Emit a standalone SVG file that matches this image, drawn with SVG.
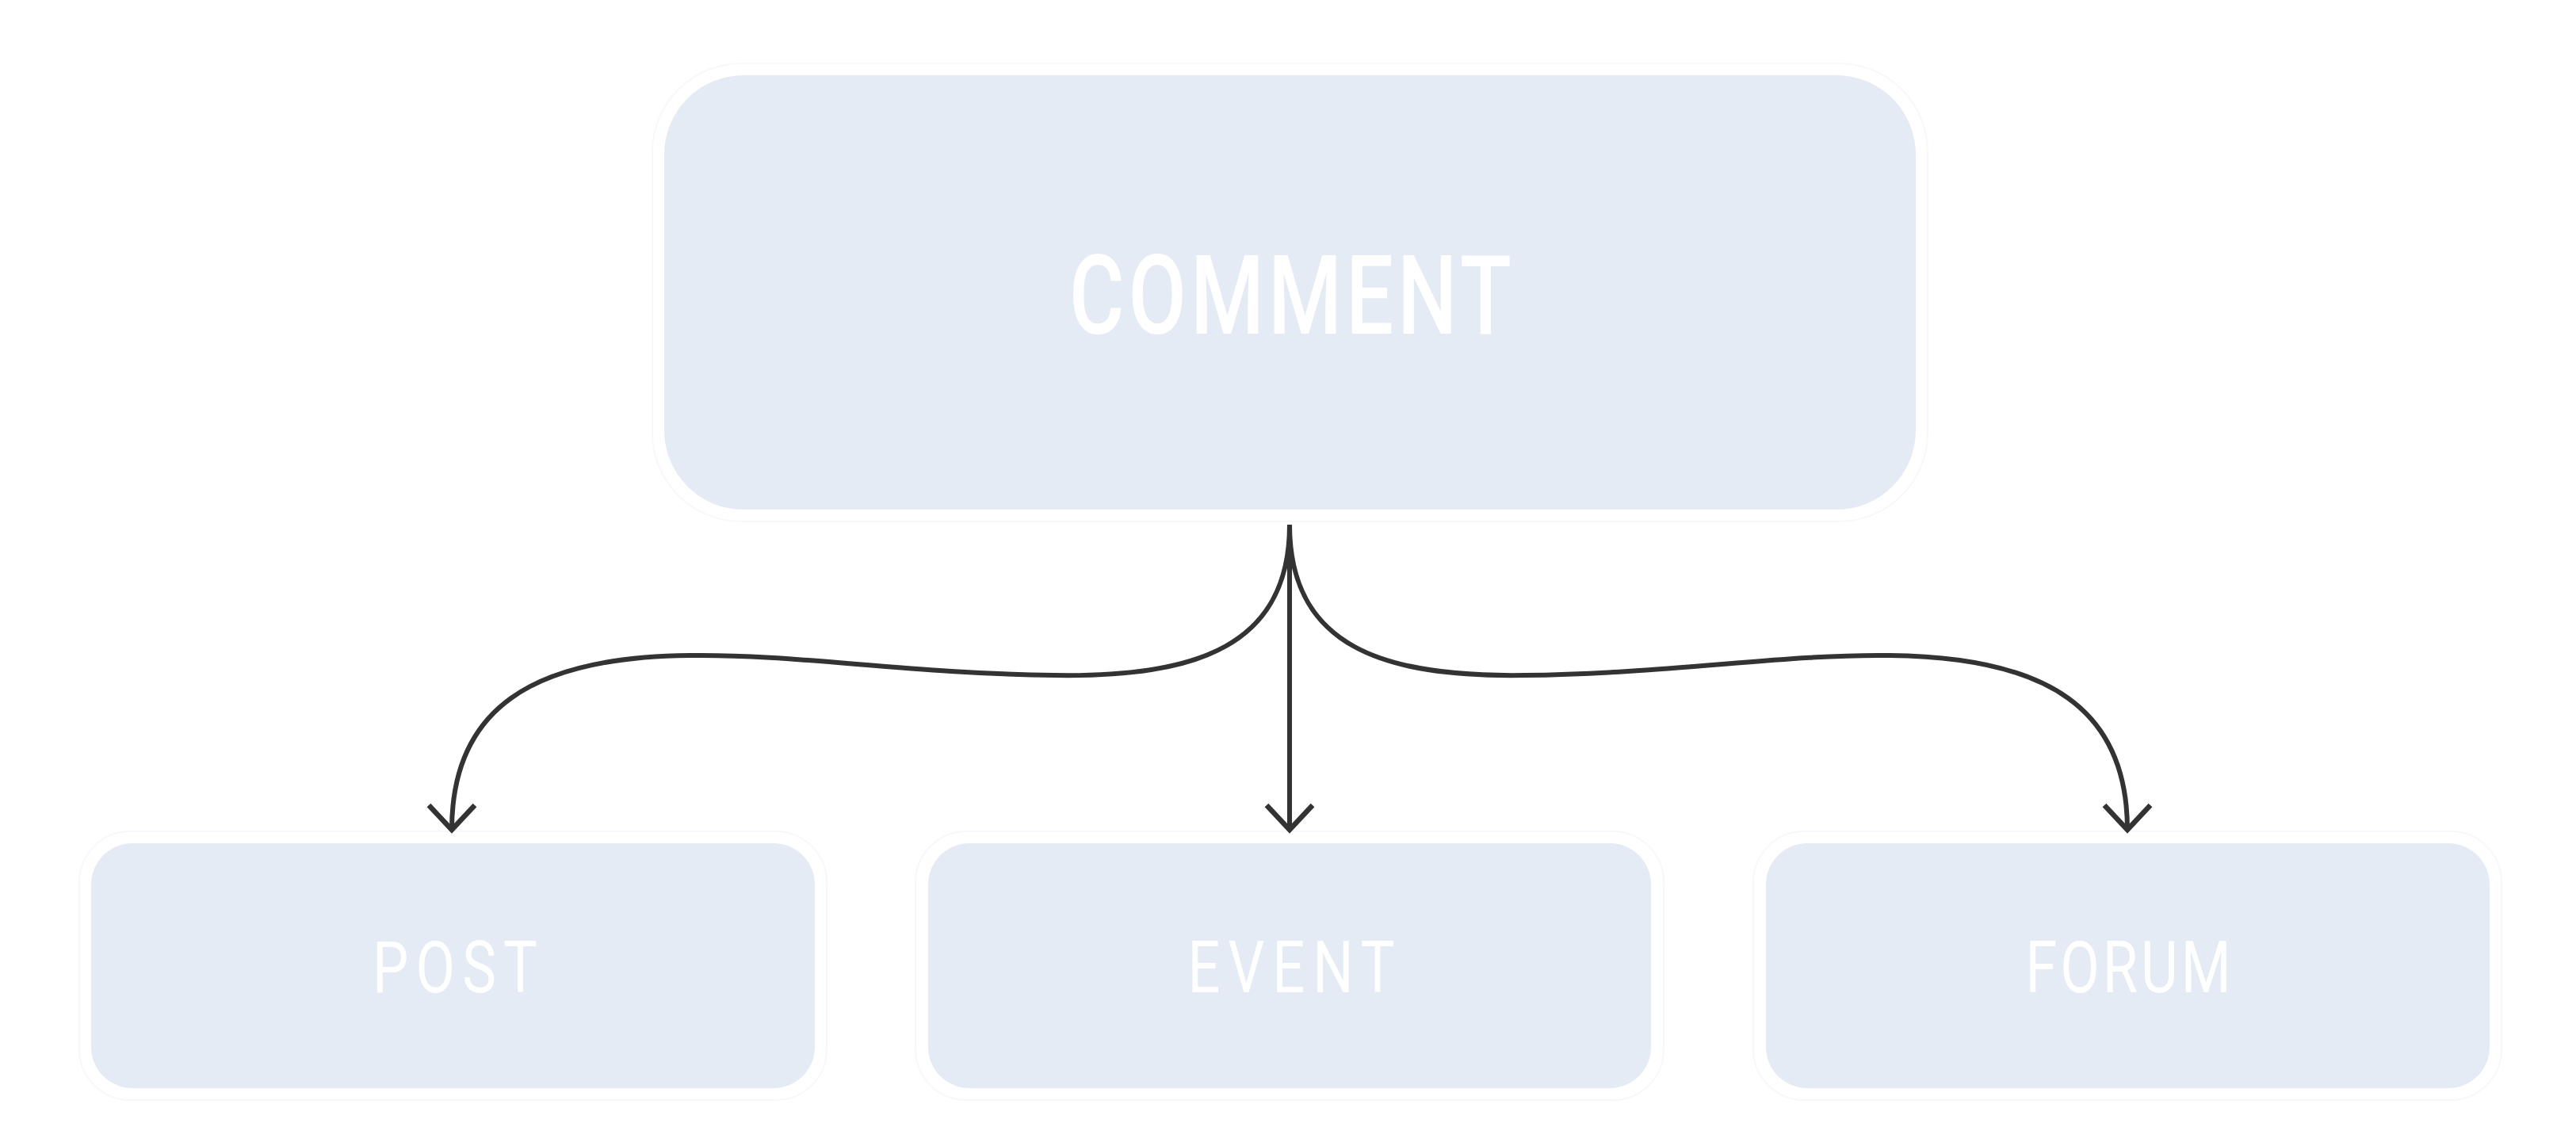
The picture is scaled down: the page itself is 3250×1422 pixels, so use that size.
<svg xmlns="http://www.w3.org/2000/svg" width="3250" height="1422" viewBox="0 0 3250 1422">
  <style>
    .box { fill: #e4ebf4; }
    .halo { fill: none; stroke: #e4ebf4; stroke-width: 2; opacity: 0.35; }
    .label { fill: #ffffff; font-family: Roboto, "Liberation Sans", "DejaVu Sans", sans-serif; text-anchor: middle; font-weight: 400; }
    .title { font-weight: 500; }
    .edge { fill: none; stroke: #333333; stroke-width: 6; }
  </style>
  <defs>
    <marker id="arrow" markerUnits="userSpaceOnUse" viewBox="-40 -40 80 80" markerWidth="80" markerHeight="80" refX="0" refY="0" orient="auto" overflow="visible">
      <path d="M-31,-29 L0,0 L-31,29" fill="none" stroke="#333333" stroke-width="6.5" stroke-linejoin="miter"/>
    </marker>
  </defs>
  <rect width="3250" height="1422" fill="#ffffff"/>

  <g id="node-comment">
    <rect class="halo" x="823" y="80" width="1609" height="578" rx="112" opacity="0.1"/>
    <rect class="box" x="838" y="95" width="1579" height="548" rx="100"/>
    <g transform="translate(1628,421) scale(0.76,1)">
      <text class="label title" x="0" y="0" font-size="140" textLength="734" lengthAdjust="spacing">COMMENT</text>
    </g>
  </g>

  <g id="node-post">
    <rect class="halo" x="100" y="1049" width="943" height="339" rx="64"/>
    <rect class="box" x="115" y="1064" width="913" height="309" rx="52"/>
    <g transform="translate(574,1252) scale(0.8,1)">
      <text class="label" x="0" y="0" font-size="90" textLength="260" lengthAdjust="spacing">POST</text>
    </g>
  </g>

  <g id="node-event">
    <rect class="halo" x="1155" y="1049" width="944" height="339" rx="64"/>
    <rect class="box" x="1171" y="1064" width="912" height="309" rx="52"/>
    <g transform="translate(1629,1252) scale(0.8,1)">
      <text class="label" x="0" y="0" font-size="90" textLength="326" lengthAdjust="spacing">EVENT</text>
    </g>
  </g>

  <g id="node-forum">
    <rect class="halo" x="2212" y="1049" width="944" height="339" rx="64"/>
    <rect class="box" x="2228" y="1064" width="913" height="309" rx="52"/>
    <g transform="translate(2685,1252) scale(0.8,1)">
      <text class="label" x="0" y="0" font-size="90" textLength="324" lengthAdjust="spacing">FORUM</text>
    </g>
  </g>

  <g id="connectors">
    <path class="edge" marker-end="url(#arrow)" d="M1627,662 C1627,815 1510,855 1330,852 C1150,850 1000,825 870,827 C670,829 570,895 570,1047"/>
    <path class="edge" marker-end="url(#arrow)" d="M1627,662 L1627,1047"/>
    <path class="edge" marker-end="url(#arrow)" d="M1627,662 C1627,815 1744,855 1924,852 C2104,850 2254,825 2384,827 C2584,829 2684,895 2684,1047"/>
  </g>
</svg>
